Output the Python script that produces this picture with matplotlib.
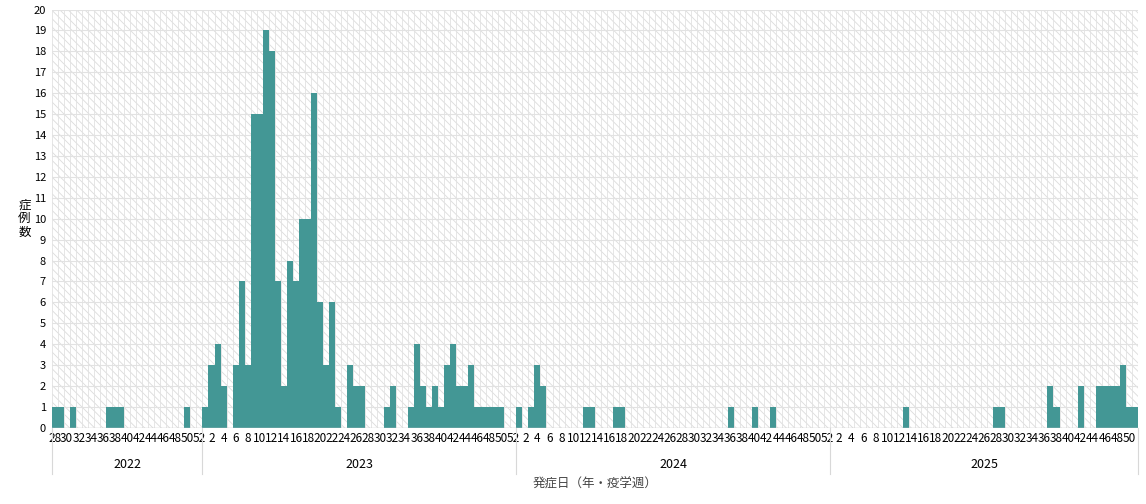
import matplotlib
matplotlib.use('Agg')
import matplotlib.pyplot as plt
from matplotlib.patches import Rectangle
import matplotlib.transforms as mtransforms

plt.rcParams['font.family'] = ['Noto Sans CJK JP', 'DejaVu Sans']
plt.rcParams['hatch.color'] = '#dcdcdc'
plt.rcParams['hatch.linewidth'] = 0.6

# weeks shown per year
years = [2022, 2023, 2024, 2025]
year_weeks = [list(range(28, 53)), list(range(1, 53)), list(range(1, 53)), list(range(1, 52))]

# cases per week (week: count), missing weeks are zero
cases_2022 = {28: 1, 29: 1, 31: 1, 37: 1, 38: 1, 39: 1, 50: 1}
cases_2023 = {1: 1, 2: 3, 3: 4, 4: 2, 6: 3, 7: 7, 8: 3, 9: 15, 10: 15, 11: 19, 12: 18,
              13: 7, 14: 2, 15: 8, 16: 7, 17: 10, 18: 10, 19: 16, 20: 6, 21: 3, 22: 6,
              23: 1, 25: 3, 26: 2, 27: 2, 31: 1, 32: 2, 35: 1, 36: 4, 37: 2, 38: 1,
              39: 2, 40: 1, 41: 3, 42: 4, 43: 2, 44: 2, 45: 3, 46: 1, 47: 1, 48: 1,
              49: 1, 50: 1}
cases_2024 = {1: 1, 3: 1, 4: 3, 5: 2, 12: 1, 13: 1, 17: 1, 18: 1, 36: 1, 40: 1, 43: 1}
cases_2025 = {13: 1, 28: 1, 29: 1, 37: 2, 38: 1, 42: 2, 45: 2, 46: 2, 47: 2, 48: 2,
              49: 3, 50: 1, 51: 1}
all_cases = [cases_2022, cases_2023, cases_2024, cases_2025]

weeks, counts = [], []
for wk, cs in zip(year_weeks, all_cases):
    for w in wk:
        weeks.append(w)
        counts.append(cs.get(w, 0))
n = len(weeks)
xs = list(range(n))

fig = plt.figure(figsize=(11.46, 5.04), dpi=100)
ax = fig.add_axes([0.045, 0.151, 0.948, 0.83])

# hatched background
ax.add_patch(Rectangle((0, 0), 1, 1, transform=ax.transAxes, facecolor='white',
                       hatch='\\\\\\\\', edgecolor='#dcdcdc', lw=0, zorder=0))
for x in range(n + 1):
    ax.axvline(x - 0.5, color='#e2e2e2', lw=0.6, zorder=0.5)
for y in range(21):
    ax.axhline(y, color='#e2e2e2', lw=0.8, zorder=0.5)

ax.bar(xs, counts, width=1.0, color='#439795', zorder=2)

ax.set_xlim(-0.5, n - 0.5)
ax.set_ylim(0, 20)
ax.set_yticks(range(21))
ax.tick_params(axis='y', length=0, labelsize=8, pad=4)
ax.set_xticks(xs)
ax.set_xticklabels([str(w) if w % 2 == 0 else '' for w in weeks], fontsize=8.5)
ax.tick_params(axis='x', length=0, pad=3)
for s in ax.spines.values():
    s.set_visible(False)
ax.axhline(0, color='#cfcfcf', lw=1, zorder=3)

# year labels and separators
trans = mtransforms.blended_transform_factory(ax.transData, ax.transAxes)
start = 0
bounds = [-0.5]
for yr, wk in zip(years, year_weeks):
    end = start + len(wk)
    ax.text((start + end - 1) / 2, -0.088, str(yr), transform=trans, ha='center',
            va='center', fontsize=9)
    bounds.append(end - 0.5)
    start = end
for b in bounds:
    ax.plot([b, b], [0, -0.11], transform=trans, color='#d8d8d8', lw=0.8, clip_on=False)

ax.text(-0.025, 0.5, '症\n例\n数', transform=ax.transAxes, ha='center', va='center',
        fontsize=9, linespacing=1.1)
ax.text(0.5, -0.135, '発症日（年・疫学週）', transform=ax.transAxes, ha='center',
        va='center', fontsize=9, color='#444444')

fig.savefig('out.png', dpi=100)
